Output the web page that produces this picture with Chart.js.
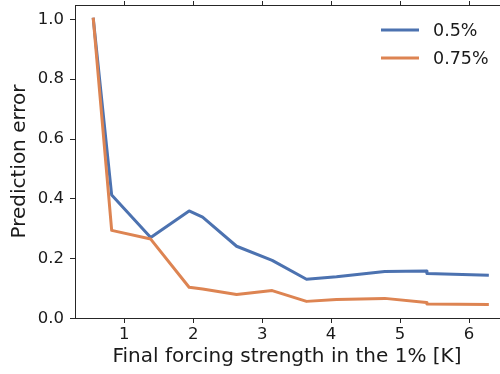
<!DOCTYPE html>
<html lang="en">
<head>
    <meta charset="UTF-8">
    <title>Prediction error</title>
    <script src="https://cdn.jsdelivr.net/npm/chart.js"></script>
    <style>
        html, body { margin: 0; padding: 0; background: #fff; }
        #wrap { width: 500px; height: 374px; }
    </style>
</head>
<body>
    <div id="wrap"><canvas id="err-chart" width="500" height="374"></canvas></div>

    <script>
        // forcing strength (x) and prediction error per series
        const forcing = [0.551, 0.817, 1.383, 1.94, 2.136, 2.629, 3.145, 3.643, 4.078, 4.778, 5.383, 5.39, 6.266];
        const err05 = [1.0, 0.413, 0.271, 0.360, 0.339, 0.242, 0.195, 0.132, 0.140, 0.158, 0.159, 0.151, 0.145];
        const err075 = [1.0, 0.295, 0.266, 0.105, 0.099, 0.081, 0.094, 0.058, 0.064, 0.068, 0.054, 0.049, 0.048];
        const seriesLabels = ['0.5%', '0.75%'];
        const xTicks = [1, 2, 3, 4, 5, 6];
        const yTicks = [0, 0.2, 0.4, 0.6, 0.8, 1.0];

        const toPoints = (ys) => ys.map((y, i) => ({ x: forcing[i], y: y }));
        const FONT = 'DejaVu Sans';
        const AXIS = '#262626';

        // simple legend in matplotlib style (short line + label)
        const mplLegend = {
            id: 'mplLegend',
            afterDraw(chart) {
                const c = chart.ctx;
                c.save();
                chart.data.datasets.forEach((ds, i) => {
                    const y = 30 + i * 28;
                    c.strokeStyle = ds.borderColor;
                    c.lineWidth = 3;
                    c.beginPath();
                    c.moveTo(381, y);
                    c.lineTo(419, y);
                    c.stroke();
                    c.fillStyle = '#1a1a1a';
                    c.font = '17.5px ' + FONT;
                    c.textBaseline = 'middle';
                    c.fillText(ds.label, 433, y + 1);
                });
                c.restore();
            }
        };

        // kill the extra room chart.js reserves for half tick labels
        const noPad = (s) => { s.paddingTop = 0; s.paddingBottom = 0; s.paddingLeft = 0; s.paddingRight = 0; };

        const ctx = document.getElementById('err-chart').getContext('2d');
        const chart = new Chart(ctx, {
            type: 'line',
            data: {
                datasets: [
                    {
                        label: seriesLabels[0],
                        data: toPoints(err05),
                        borderColor: '#4C72B0',
                        order: 1
                    },
                    {
                        label: seriesLabels[1],
                        data: toPoints(err075),
                        borderColor: '#DD8452',
                        order: 0
                    }
                ]
            },
            options: {
                responsive: false,
                animation: false,
                layout: { padding: { top: 0, left: 0, right: 1, bottom: 0 } },
                elements: {
                    point: { radius: 0 },
                    line: { borderWidth: 3, tension: 0, fill: false, borderJoinStyle: 'round', borderCapStyle: 'square' }
                },
                plugins: {
                    legend: { display: false },
                    tooltip: { enabled: false }
                },
                scales: {
                    x: {
                        type: 'linear',
                        position: 'bottom',
                        min: 0.285,
                        max: 6.435,
                        afterBuildTicks: (s) => { s.ticks = xTicks.map(v => ({ value: v })); },
                        afterFit: (s) => { s.height = 56; noPad(s); },
                        ticks: { color: '#1a1a1a', font: { family: FONT, size: 16.5 }, padding: 2, maxRotation: 0 },
                        grid: { drawOnChartArea: false, drawTicks: true, tickLength: 5, color: AXIS },
                        border: { display: true, color: AXIS, width: 1 },
                        title: {
                            display: true,
                            text: 'Final forcing strength in the 1% [K]',
                            color: '#1a1a1a',
                            font: { family: FONT, size: 20 },
                            padding: { top: 0, bottom: 5 }
                        }
                    },
                    xTop: {
                        type: 'linear',
                        position: 'top',
                        min: 0.285,
                        max: 6.435,
                        afterBuildTicks: (s) => { s.ticks = xTicks.map(v => ({ value: v })); },
                        afterFit: (s) => { s.height = 5; noPad(s); },
                        ticks: { display: false },
                        grid: { drawOnChartArea: false, drawTicks: true, tickLength: 4, color: AXIS },
                        border: { display: true, color: AXIS, width: 1 }
                    },
                    y: {
                        type: 'linear',
                        min: 0.0025,
                        max: 1.0475,
                        afterBuildTicks: (s) => { s.ticks = yTicks.map(v => ({ value: v })); },
                        afterFit: (s) => { s.width = 75; noPad(s); },
                        ticks: {
                            color: '#1a1a1a',
                            font: { family: FONT, size: 16.5 },
                            padding: 6,
                            callback: (v) => Number(v).toFixed(1)
                        },
                        grid: { drawOnChartArea: false, drawTicks: true, tickLength: 5, color: AXIS },
                        border: { display: true, color: AXIS, width: 1 },
                        title: {
                            display: true,
                            text: 'Prediction error',
                            color: '#1a1a1a',
                            font: { family: FONT, size: 20 },
                            padding: { top: 8, bottom: 0 }
                        }
                    }
                }
            },
            plugins: [mplLegend]
        });
    </script>
</body>
</html>
